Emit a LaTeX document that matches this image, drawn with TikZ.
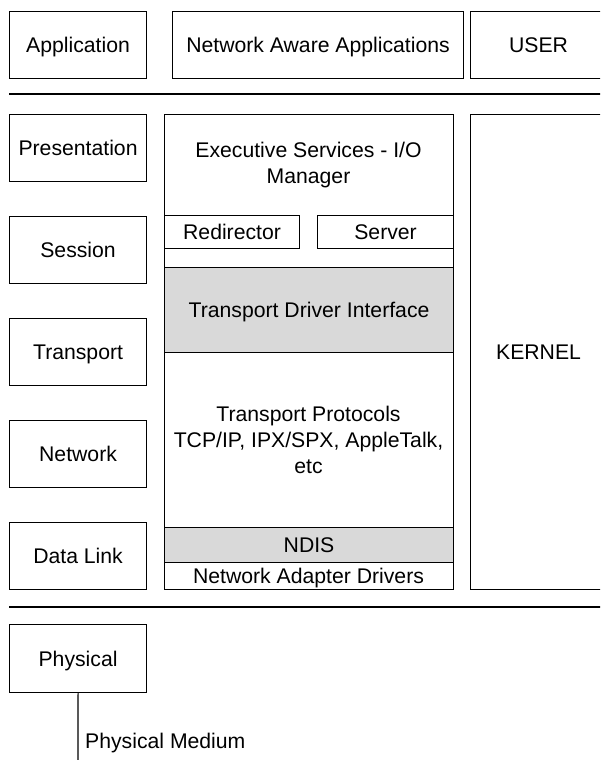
\documentclass[tikz,border=0pt]{standalone}
\usepackage{fontspec}
\setmainfont{Liberation Sans}
\begin{document}
\begin{tikzpicture}[x=1pt,y=-1pt,
  every node/.style={font=\fontsize{21.2}{26}\selectfont, inner sep=0pt},
  frame/.style={draw, line width=1.1pt},
  box/.style={frame, anchor=north west, align=center, text height=15.2pt, text depth=0pt},
  grey/.style={fill=black!15},
  rule/.style={line width=1.1pt}]
\useasboundingbox (0,0) rectangle (600,760);
\clip (0,0) rectangle (600,760);
\fill[white] (0,0) rectangle (600,760);

% user level
\node[box, minimum width=137pt, minimum height=67pt] (app) at (9,11) {Application};
\node[box, minimum width=291pt, minimum height=67pt] (naa) at (172,11) {Network Aware Applications};
\node[box, minimum width=136pt, minimum height=67pt] (user) at (470,11) {USER};
\coordinate (r1l) at (9,94);
\coordinate (r1r) at (610,94);
\draw[rule] (r1l) -- (r1r);

% OSI layers in the kernel
\node[box, minimum width=137pt, minimum height=67pt] (pres) at (9,114) {Presentation};
\node[box, minimum width=137pt, minimum height=67pt] (sess) at (9,216) {Session};
\node[box, minimum width=137pt, minimum height=67pt] (trans) at (9,318) {Transport};
\node[box, minimum width=137pt, minimum height=67pt] (net) at (9,420) {Network};
\node[box, minimum width=137pt, minimum height=67pt] (dlink) at (9,522) {Data Link};

% NT networking stack
\node[box, minimum width=289pt, minimum height=475pt] (exec) at (164,114) {};
\node (exectxt) at (308.5,165.5) [align=center] {Executive Services - I/O\\Manager};
\node[box, minimum width=135pt, minimum height=33pt] (redir) at (164,215) {Redirector};
\node[box, minimum width=136pt, minimum height=33pt] (serv) at (317,215) {Server};
\node[box, grey, minimum width=289pt, minimum height=85pt] (tdi) at (164,267) {Transport Driver Interface};
\node (tp) at (308.5,440) [align=center] {Transport Protocols\\TCP/IP, IPX/SPX, AppleTalk,\\etc};
\node[box, grey, minimum width=289pt, minimum height=35pt] (ndis) at (164,527) {NDIS};
\node[text height=15.2pt, text depth=0pt] (nad) at (308.5,576) {Network Adapter Drivers};
\node[box, minimum width=136pt, minimum height=475pt] (kern) at (470,114) {KERNEL};

\coordinate (r2l) at (9,607);
\coordinate (r2r) at (610,607);
\draw[rule] (r2l) -- (r2r);

% hardware
\node[box, minimum width=137pt, minimum height=68pt] (phys) at (9,624) {Physical};
\coordinate (medium) at (78,770);
\draw[rule] (phys.south) -- (medium);
\node[anchor=base west] (medlbl) at (85,748) {Physical Medium};
\end{tikzpicture}
\end{document}
